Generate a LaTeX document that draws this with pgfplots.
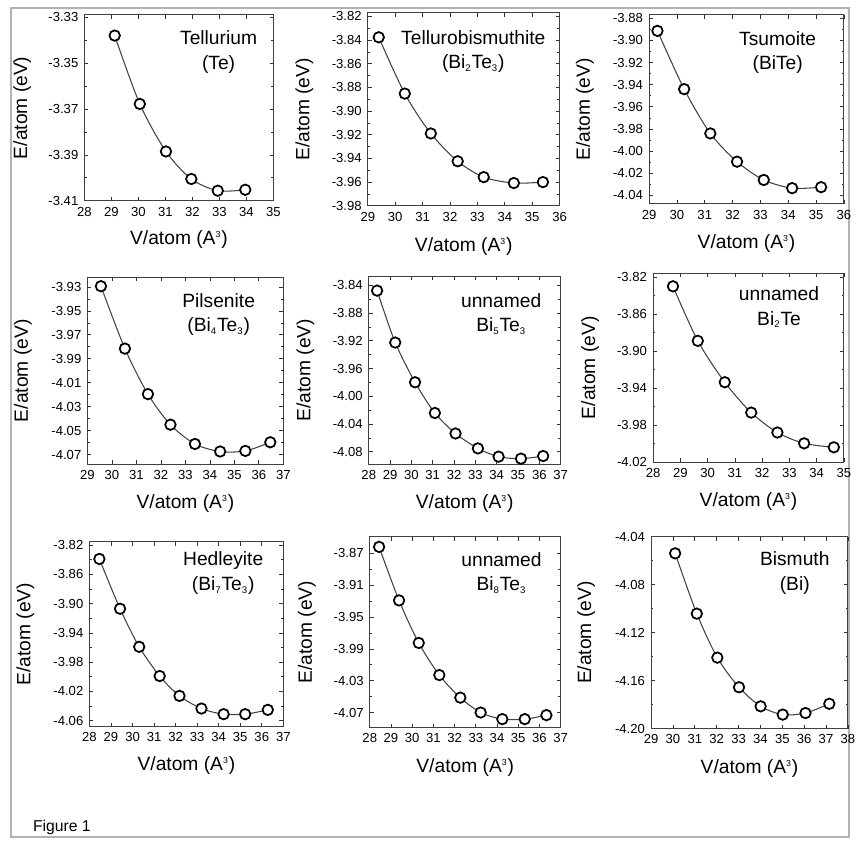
\documentclass[border=0pt]{standalone}
\usepackage{fontspec}
\setmainfont{Liberation Sans}
\usepackage{pgfplots}
\usepackage{pgfplotstable}
\pgfplotsset{compat=1.18}

% E/atom vs V/atom
\pgfplotstableread{
v e
29.12 -3.3380
30.05 -3.3678
31.02 -3.3885
31.96 -3.4005
32.94 -3.4056
33.96 -3.4052
}\tTe
\pgfplotstableread{
v e
29.40 -3.8376
30.35 -3.8852
31.30 -3.9189
32.28 -3.9424
33.23 -3.9558
34.33 -3.9608
35.39 -3.9600
}\tBiTwoTeThree
\pgfplotstableread{
v e
29.30 -3.8914
30.26 -3.9440
31.20 -3.9840
32.16 -4.0095
33.12 -4.0260
34.14 -4.0334
35.18 -4.0325
}\tBiTe
\pgfplotstableread{
v e
29.55 -3.9294
30.53 -3.9815
31.47 -4.0195
32.39 -4.0450
33.39 -4.0611
34.42 -4.0674
35.45 -4.0669
36.47 -4.0597
}\tBiFourTeThree
\pgfplotstableread{
v e
28.39 -3.8476
29.24 -3.9225
30.17 -3.9798
31.10 -4.0241
32.07 -4.0537
33.12 -4.0752
34.09 -4.0871
35.14 -4.0900
36.18 -4.0862
}\tBiFiveTeThree
\pgfplotstableread{
v e
28.73 -3.8300
29.64 -3.8889
30.63 -3.9336
31.60 -3.9664
32.56 -3.9879
33.54 -3.9996
34.63 -4.0039
}\tBiTwoTe
\pgfplotstableread{
v e
28.46 -3.8390
29.42 -3.9070
30.31 -3.9590
31.26 -3.9989
32.18 -4.0260
33.20 -4.0433
34.23 -4.0510
35.23 -4.0510
36.28 -4.0451
}\tBiSevenTeThree
\pgfplotstableread{
v e
28.44 -3.8617
29.38 -3.9290
30.31 -3.9825
31.28 -4.0229
32.27 -4.0513
33.23 -4.0700
34.25 -4.0783
35.31 -4.0783
36.33 -4.0733
}\tBiEightTeThree
\pgfplotstableread{
v e
30.10 -4.0538
31.09 -4.1041
32.03 -4.1408
33.02 -4.1655
34.01 -4.1814
35.02 -4.1883
36.06 -4.1870
37.15 -4.1793
}\tBi

\newcommand{\sub}[1]{\textsubscript{\fontsize{5.5}{6}\selectfont #1}}

\pgfplotsset{
  panel/.style={
    scale only axis,
    clip=false,
    /pgf/number format/assume math mode=true,
    tick label style={font=\fontsize{7.5}{8}\selectfont},
    label style={font=\fontsize{11}{13}\selectfont},
    xlabel={V/atom (A\textsuperscript{\tiny 3})},
    ylabel={E/atom (eV)},
    xlabel style={at={(axis description cs:0.5,-0.21)}, anchor=center},
    ylabel style={at={(axis description cs:-0.33,0.5)}, anchor=center},
    yticklabel style={/pgf/number format/.cd, fixed, fixed zerofill, precision=2},
    xtick distance=1,
    minor y tick num=1,
    major tick length=2.2pt,
    minor tick length=1.3pt,
    every tick/.style={black!80, line width=0.4pt},
    axis line style={black!75, line width=0.5pt},
  },
  curve/.style={smooth, black!75, line width=0.6pt,
    mark=*, mark size=3pt,
    mark options={fill=white, draw=black, line width=1pt, solid}},
}
\tikzset{plabel/.style={align=center, font=\fontsize{11}{14}\selectfont}}

\begin{document}
\begin{tikzpicture}
% page area and grey frame
\path (0,0) rectangle (17.22,-16.88);
\draw[black!30, line width=1.2pt] (0.22,-0.16) rectangle (17.08,-16.84);
\node[anchor=base west, font=\fontsize{9}{10}\selectfont] at (0.54,-16.72) {Figure 1};

% row 1
\begin{axis}[panel, at={(1.70cm,-4.04cm)}, anchor=south west,
  width=3.80cm, height=3.74cm,
  xmin=28, xmax=35, ymin=-3.41, ymax=-3.329,
  ytick={-3.41,-3.39,-3.37,-3.35,-3.33}]
\addplot[curve] table[x=v,y=e] {\tTe};
\node[plabel] at (rel axis cs:0.71,0.80) {Tellurium\\(Te)};
\end{axis}

\begin{axis}[panel, at={(7.40cm,-4.14cm)}, anchor=south west,
  width=3.86cm, height=3.88cm,
  xmin=29, xmax=36, ymin=-3.98, ymax=-3.817,
  ytick={-3.98,-3.96,-3.94,-3.92,-3.90,-3.88,-3.86,-3.84,-3.82}]
\addplot[curve] table[x=v,y=e] {\tBiTwoTeThree};
\node[plabel] at (rel axis cs:0.55,0.80) {Tellurobismuthite\\(Bi\sub{2}Te\sub{3})};
\end{axis}

\begin{axis}[panel, at={(13.06cm,-4.10cm)}, anchor=south west,
  width=3.92cm, height=3.80cm,
  xmin=29, xmax=36, ymin=-4.0475, ymax=-3.877,
  ytick={-4.04,-4.02,-4.00,-3.98,-3.96,-3.94,-3.92,-3.90,-3.88}]
\addplot[curve] table[x=v,y=e] {\tBiTe};
\node[plabel] at (rel axis cs:0.66,0.80) {Tsumoite\\(BiTe)};
\end{axis}

% row 2
\begin{axis}[panel, at={(1.76cm,-9.34cm)}, anchor=south west,
  width=3.94cm, height=3.76cm,
  xmin=29, xmax=37, ymin=-4.078, ymax=-3.922,
  ytick={-4.07,-4.05,-4.03,-4.01,-3.99,-3.97,-3.95,-3.93}]
\addplot[curve] table[x=v,y=e] {\tBiFourTeThree};
\node[plabel] at (rel axis cs:0.67,0.80) {Pilsenite\\(Bi\sub{4}Te\sub{3})};
\end{axis}

\begin{axis}[panel, at={(7.42cm,-9.34cm)}, anchor=south west,
  width=3.86cm, height=3.78cm,
  xmin=28, xmax=37, ymin=-4.098, ymax=-3.827,
  ytick={-4.08,-4.04,-4.00,-3.96,-3.92,-3.88,-3.84}]
\addplot[curve] table[x=v,y=e] {\tBiFiveTeThree};
\node[plabel] at (rel axis cs:0.69,0.80) {unnamed\\Bi\sub{5}Te\sub{3}};
\end{axis}

\begin{axis}[panel, at={(13.14cm,-9.30cm)}, anchor=south west,
  width=3.84cm, height=3.80cm,
  xmin=28, xmax=35, ymin=-4.02, ymax=-3.816,
  ytick={-4.02,-3.98,-3.94,-3.90,-3.86,-3.82}]
\addplot[curve] table[x=v,y=e] {\tBiTwoTe};
\node[plabel] at (rel axis cs:0.66,0.82) {unnamed\\Bi\sub{2}Te};
\end{axis}

% row 3
\begin{axis}[panel, at={(1.80cm,-14.62cm)}, anchor=south west,
  width=3.90cm, height=3.72cm,
  xmin=28, xmax=37, ymin=-4.068, ymax=-3.8155,
  ytick={-4.06,-4.02,-3.98,-3.94,-3.90,-3.86,-3.82}]
\addplot[curve] table[x=v,y=e] {\tBiSevenTeThree};
\node[plabel] at (rel axis cs:0.69,0.83) {Hedleyite\\(Bi\sub{7}Te\sub{3})};
\end{axis}

\begin{axis}[panel, at={(7.44cm,-14.64cm)}, anchor=south west,
  width=3.84cm, height=3.84cm,
  xmin=28, xmax=37, ymin=-4.089, ymax=-3.849,
  ytick={-4.07,-4.03,-3.99,-3.95,-3.91,-3.87}]
\addplot[curve] table[x=v,y=e] {\tBiEightTeThree};
\node[plabel] at (rel axis cs:0.69,0.81) {unnamed\\Bi\sub{8}Te\sub{3}};
\end{axis}

\begin{axis}[panel, at={(13.10cm,-14.66cm)}, anchor=south west,
  width=3.96cm, height=3.86cm,
  xmin=29, xmax=38, ymin=-4.20, ymax=-4.04,
  ytick={-4.20,-4.16,-4.12,-4.08,-4.04}]
\addplot[curve] table[x=v,y=e] {\tBi};
\node[plabel] at (rel axis cs:0.73,0.81) {Bismuth\\(Bi)};
\end{axis}
\end{tikzpicture}
\end{document}
